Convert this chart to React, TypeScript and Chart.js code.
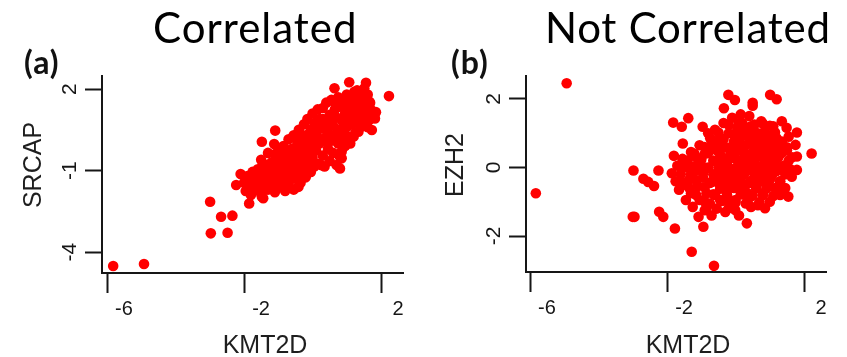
import React, { useEffect, useRef } from "react";
import { Chart, registerables } from "chart.js";

Chart.register(...registerables);

// Panel (a): KMT2D vs SRCAP (correlated)
const corrKMT2D = [
  -5.82, -4.92, -2.99, -2.67, -2.34, -2.97, -2.48, -2.23, -1.85, -1.78, -2.1, -1.48, -1.09, -1.12, -1.44, -1.48,
  1.07, 1.56, 0.64, 2.23, 1.51, 1.22, 1.61, 1.68, 1.8, 1.73, 1.34, 0.85, 0.8, -0.41, -0.61, 1.82, 1.66, 0.8,
  -2.0, -1.95, -1.9, -1.85, -1.8, -1.75, -1.7, -1.65, -1.6, -1.6,
  -1.55, -1.5, -1.5, -1.45, -1.4, -1.35, -1.3, -1.3, -1.25, -1.2, -1.2, -1.15, -1.1, -1.1, -1.05, -1.0, -1.0, -1.0,
  -0.95, -0.9, -0.9, -0.85, -0.85, -0.8, -0.8, -0.75, -0.75, -0.7, -0.7, -0.65, -0.6, -0.6, -0.55, -0.55, -0.5, -0.5,
  -0.45, -0.45, -0.4, -0.4, -0.35, -0.35, -0.3, -0.3, -0.25, -0.25, -0.2, -0.2, -0.2, -0.15, -0.1, -0.1, -0.05, -0.05, 0.0, 0.0, 0.0,
  0.05, 0.05, 0.1, 0.1, 0.15, 0.15, 0.2, 0.2, 0.25, 0.25, 0.3, 0.3, 0.35, 0.35, 0.4, 0.4, 0.45, 0.45, 0.5, 0.5,
  0.55, 0.55, 0.6, 0.6, 0.65, 0.65, 0.7, 0.7, 0.75, 0.75, 0.8, 0.8, 0.85, 0.85, 0.9, 0.9, 0.95, 0.95, 1.0, 1.0,
  1.05, 1.05, 1.1, 1.1, 1.15, 1.15, 1.2, 1.25, 1.25, 1.3, 1.3, 1.35, 1.4, 1.4, 1.45, 1.5, 1.5,
  1.55, 1.6, 1.65, 1.7, 1.75, 1.85, 1.6,
  -1.9, -1.8, -1.7, -1.55, -1.45, -1.35, -1.25, -1.15, -1.05, -0.95, -0.85, -0.75, -0.65, -0.55, -0.45, -0.35, -0.25, -0.15,
  -0.05, 0.05, 0.15, 0.25, 0.35, 0.45, 0.55, 0.65, 0.75, 0.85, 0.95, 1.05, 1.15, 1.25, 1.35, 1.45, 1.55,
  -1.7, -1.4, -1.1, -0.8, -0.5, -0.2, 0.1, 0.4, 0.7, 1.0, 1.3, 1.6, -0.6, -0.3, 0.0, 0.3, 0.6, 0.9, 1.2,
];
const corrSRCAP = [
  -4.51, -4.44, -2.15, -2.7, -2.66, -3.31, -3.29, -1.53, -2.21, -1.66, -1.13, 0.06, 0.47, -0.02, -2.02, -1.96,
  2.25, 2.23, 2.03, 1.74, 2.03, 1.9, 1.8, 1.5, 0.98, 0.49, 0.43, -0.55, -0.92, -1.6, -1.29, 0.92, 1.53, -0.49,
  -1.45, -1.75, -1.2, -1.55, -1.9, -1.05, -1.4, -1.7, -0.95, -1.25,
  -1.55, -1.85, -0.6, -1.1, -1.4, -0.8, -1.7, -0.35, -1.2, -1.5, -0.7, -1.0, -1.8, -0.4, -1.3, -0.9, -1.6, -0.2,
  -1.15, -0.55, -1.45, -0.1, -0.85, -1.75, -1.2, -0.4, -0.95, 0.15, -1.5, -0.7, -0.2, -1.05, -1.7, 0.3, -0.5, -1.3,
  -0.85, 0.1, -1.15, 0.5, -0.3, -1.45, 0.0, -0.7, 0.7, -1.0, -0.45, 0.3, -1.25, 0.9, -0.15, -0.8, 0.5, -1.05, 0.15, -0.5, 1.1,
  -0.85, 0.75, -0.25, 0.35, -0.75, 1.25, 0.0, 0.9, -0.8, 0.55, -0.45, 1.3, 0.2, -0.85, 0.75, 1.5, -0.2, 0.4, 1.05, -0.65,
  0.1, 1.6, 0.65, -0.35, 1.25, 0.3, -0.8, 0.95, 1.7, 0.0, 0.5, 1.35, -0.3, 0.85, 1.55, 0.2, 1.1, -0.1, 0.6, 1.8,
  0.95, 0.25, 1.45, 0.0, 0.7, 1.7, 1.15, 0.4, 1.55, 0.85, 1.95, 1.25, 0.6, 1.7, 1.0, 1.4, 0.7,
  1.1, 1.55, 0.85, 1.25, 1.0, 1.15, 0.6,
  -1.6, -1.3, -1.15, -1.25, -0.75, -1.15, -0.9, -1.3, -0.6, -0.75, -0.45, -1.35, -0.35, -0.85, -0.3, 0.2, -0.6, 0.2,
  0.05, 0.35, 0.5, 0.1, 0.55, 0.9, 0.85, 1.5, 0.45, 0.45, 1.35, 1.6, 1.1, 0.9, 0.75, 1.3, 1.35,
  -1.1, -1.0, -0.65, -0.6, -0.15, -0.05, 0.05, 0.1, 0.25, 1.2, 1.5, 1.0, -0.45, -0.5, -0.25, 0.9, 0.95, 0.65, 0.25,
];

// Panel (b): KMT2D vs EZH2 (not correlated)
const uncorrKMT2D = [
  -4.93, -5.83, -2.98, -2.25, -2.69, -2.55, -2.38, -3.0, -2.95, -2.23, -2.11, -1.77, -1.28, -0.63,
  -1.82, -1.38, -1.57, -1.54, -1.8, -1.86, -0.96, -0.21, -0.02, 0.5, 0.5, 1.01, 1.2, -0.34, 0.15,
  1.49, 1.79, 2.22, 1.64, 1.54, 0.86, 0.33, -0.01, -0.74, -0.94, -1.08,
  -1.75, -1.7, -1.65, -1.6, -1.55, -1.5, -1.45, -1.4, -1.35, -1.3, -1.3, -1.25, -1.2, -1.15, -1.1, -1.05, -1.05, -1.0,
  -0.95, -0.9, -0.9, -0.85, -0.8, -0.8, -0.75, -0.75, -0.7, -0.7,
  -0.65, -0.65, -0.6, -0.6, -0.55, -0.55, -0.5, -0.5, -0.45, -0.45, -0.4, -0.4, -0.35, -0.35, -0.3, -0.3, -0.25, -0.25,
  -0.2, -0.2, -0.15, -0.15, -0.1, -0.1, -0.05, -0.05, 0.0, 0.0, 0.05, 0.05, 0.1, 0.1, 0.15, 0.15, 0.2, 0.2, 0.25, 0.25,
  0.3, 0.3, 0.35, 0.35, 0.4, 0.4, 0.45, 0.45, 0.5, 0.5, 0.55, 0.55, 0.6, 0.6, 0.65, 0.65, 0.7, 0.7, 0.75, 0.75,
  0.8, 0.8, 0.85, 0.85, 0.9, 0.9, 0.95, 0.95, 1.0, 1.0, 1.05, 1.05, 1.1, 1.1, 1.15, 1.15, 1.2, 1.2,
  1.25, 1.3, 1.3, 1.35, 1.4, 1.45, 1.5, 1.55, 1.6, 1.65, 1.75, 1.79, 1.79, 1.3,
  -0.3, 0.0, 0.2, 0.4, 0.55, 0.3, -0.1, 0.1, 0.6, 0.8, 0.45, 0.15, -0.2, 0.35, 0.65,
  -0.2, 0.1, 0.45, 0.8, 1.0,
  -0.5, -0.05, 0.25, 0.6, 0.9, 1.15,
  -0.7, -0.35, 0.05, 0.4, 0.7, 1.05, 1.35,
  -0.9, -0.5, -0.15, 0.2, 0.55, 0.85, 1.2, 1.5,
  -1.2, -0.8, -0.45, -0.05, 0.3, 0.7, 1.0, 1.35,
  -1.4, -1.0, -0.6, -0.25, 0.1, 0.5, 0.85, 1.15, 1.55,
  -1.55, -1.2, -0.85, -0.4, 0.0, 0.35, 0.65, 0.95, 1.3,
  -1.3, -0.95, -0.55, -0.15, 0.2, 0.55, 0.8, 1.1, 1.45,
  -1.6, -1.15, -0.7, -0.35, 0.05, 0.45, 0.75, 1.0, 1.3,
  -1.35, -0.9, -0.45, -0.1, 0.25, 0.6, 0.9, 1.2,
  -1.15, -0.65, -0.25, 0.15, 0.5, 0.8, 1.1,
  -0.9, -0.4, 0.0, 0.35, 0.7,
  -0.85, -0.2, 0.45,
];
const uncorrEZH2 = [
  2.46, -0.75, -0.09, -0.09, -0.33, -0.42, -0.54, -1.44, -1.44, -1.29, -1.44, -1.78, -2.46, -2.87,
  1.31, 1.44, 1.19, 0.7, 0.34, -0.17, 1.19, 2.12, 1.97, 1.89, 1.8, 2.12, 1.99, 1.73, 1.55,
  1.16, 1.02, 0.41, -0.27, -0.85, -1.19, -1.63, -1.24, 0.85, -1.73, -1.44,
  -0.4, 0.05, -0.65, -0.2, 0.25, -0.5, -0.95, 0.0, -0.35, 0.45, -0.75, -1.15, -0.1, 0.3, -0.55, -0.95, 0.65, 0.05,
  -0.3, -1.25, 0.4, -0.75, 0.0, 1.0, -1.05, -0.45, 0.6, -1.4,
  0.2, -0.2, -0.8, 1.1, 0.5, -1.2, -0.45, 0.0, 0.85, -0.95, 0.3, -0.6, 1.3, -0.15, 0.6, -1.3, -0.8, 0.1,
  1.0, -0.35, 0.45, -1.05, -0.05, 1.45, 0.75, -0.6, 0.25, -0.95, 1.15, -0.3, 0.5, -1.4, 0.0, 0.9, -0.7, 1.3, 0.3, -0.2,
  0.65, -1.05, 1.05, 0.05, -0.45, 1.5, 0.4, -0.85, 0.85, -0.1, 1.25, 0.2, -0.6, 0.6, -1.1, 1.0, 0.0, 0.35, -0.35, 1.35,
  0.75, -0.8, 0.15, 1.05, -0.2, 0.5, -0.55, 0.9, 0.25, -1.0, 0.65, -0.25, 1.2, 0.05, -0.6, 0.45, 0.85, -0.1,
  0.3, -0.4, 0.7, 1.35, 0.05, -0.6, 0.5, 0.9, -0.05, 0.3, 0.66, 0.32, -0.07, -0.8,
  0.25, 0.6, 0.15, 0.15, -0.35, -0.5, 0.35, -0.1, 0.4, 0.3, 0.7, -0.45, -0.6, -0.75, -0.2,
  1.25, 1.3, 1.2, 1.28, 1.22,
  1.02, 0.97, 1.05, 1.0, 0.95, 1.03,
  0.8, 0.83, 0.77, 0.82, 0.78, 0.81, 0.76,
  0.6, 0.63, 0.58, 0.62, 0.57, 0.61, 0.64, 0.59,
  0.4, 0.42, 0.38, 0.43, 0.37, 0.41, 0.39, 0.42,
  0.2, 0.23, 0.18, 0.22, 0.17, 0.21, 0.24, 0.19, 0.2,
  0.0, 0.03, -0.02, 0.02, -0.03, 0.01, 0.04, -0.01, 0.0,
  -0.2, -0.17, -0.22, -0.18, -0.23, -0.19, -0.21, -0.16, -0.2,
  -0.4, -0.37, -0.42, -0.38, -0.43, -0.39, -0.41, -0.36, -0.4,
  -0.6, -0.58, -0.62, -0.57, -0.63, -0.59, -0.61, -0.6,
  -0.8, -0.78, -0.82, -0.79, -0.81, -0.77, -0.83,
  -1.0, -0.98, -1.02, -0.97, -1.01,
  -1.2, -1.18, -1.15,
];

const kmt2dTicks = [-6, -2, 2];
const srcapTicks = [2, -1, -4];
const ezh2Ticks = [2, 0, -2];

const INK = "#161616";
const TICK_FONT = "'Liberation Sans', Arial, sans-serif";
const YTICK_FONT = "'Liberation Sans Narrow', 'Liberation Sans', Arial, sans-serif";

type Area = { left: number; right: number; top: number; bottom: number };

type PanelProps = {
  xs: number[];
  ys: number[];
  xMin: number;
  xMax: number;
  yMin: number;
  yMax: number;
  xTicks: number[];
  yTicks: number[];
  width: number;
  height: number;
  left: number;
  area: Area;
};

function ScatterPanel(p: PanelProps) {
  const ref = useRef<HTMLCanvasElement>(null);
  useEffect(() => {
    const points = p.xs.map((x, i) => ({ x, y: p.ys[i] }));
    const chart = new Chart(ref.current as HTMLCanvasElement, {
      type: "scatter",
      data: {
        datasets: [
          {
            data: points,
            backgroundColor: "#ff0000",
            borderWidth: 0,
            pointRadius: 5.3,
            pointHoverRadius: 5.3,
          },
        ],
      },
      options: {
        animation: false,
        responsive: false,
        devicePixelRatio: 1,
        events: [],
        layout: {
          padding: { top: p.area.top, right: p.width - p.area.right, left: 0, bottom: 0 },
        },
        plugins: {
          legend: { display: false },
          tooltip: { enabled: false },
          title: { display: false },
        },
        scales: {
          x: {
            type: "linear",
            min: p.xMin,
            max: p.xMax,
            afterBuildTicks: (s: any) => {
              s.ticks = p.xTicks.map((v) => ({ value: v }));
            },
            afterFit: (s: any) => {
              s.height = p.height - p.area.bottom;
            },
            grid: {
              display: true,
              drawOnChartArea: false,
              drawTicks: true,
              tickLength: 20,
              tickWidth: 2,
              tickColor: INK,
            },
            border: { display: true, width: 2, color: INK },
            ticks: {
              autoSkip: false,
              minRotation: 0,
              maxRotation: 0,
              labelOffset: 17,
              padding: 4,
              color: INK,
              font: { family: TICK_FONT, size: 20 },
              callback: (v: any) => String(v),
            },
          },
          y: {
            type: "linear",
            min: p.yMin,
            max: p.yMax,
            afterBuildTicks: (s: any) => {
              s.ticks = p.yTicks.map((v) => ({ value: v }));
            },
            afterFit: (s: any) => {
              s.width = p.area.left;
            },
            grid: {
              display: true,
              drawOnChartArea: false,
              drawTicks: true,
              tickLength: 17,
              tickWidth: 2,
              tickColor: INK,
            },
            border: { display: true, width: 2, color: INK },
            ticks: {
              autoSkip: false,
              minRotation: 90,
              maxRotation: 90,
              crossAlign: "center",
              padding: 5,
              color: INK,
              font: { family: YTICK_FONT, size: 21 },
              callback: (v: any) => String(v),
            },
          },
        },
      },
    } as any);
    return () => chart.destroy();
  }, []);
  return (
    <canvas
      ref={ref}
      width={p.width}
      height={p.height}
      style={{ position: "absolute", left: p.left, top: 0, width: p.width, height: p.height }}
    />
  );
}

const titleStyle: React.CSSProperties = {
  position: "absolute",
  fontFamily: "Lato, 'Open Sans', sans-serif",
  fontSize: 42,
  lineHeight: "42px",
  color: "#000",
  whiteSpace: "nowrap",
};
const letterStyle: React.CSSProperties = {
  position: "absolute",
  fontFamily: "Lato, 'Open Sans', sans-serif",
  fontWeight: 700,
  fontSize: 32,
  lineHeight: "32px",
  letterSpacing: 1,
  color: "#111",
  whiteSpace: "nowrap",
};
const axisTitleStyle: React.CSSProperties = {
  position: "absolute",
  fontFamily: "'Liberation Sans', Arial, sans-serif",
  fontSize: 25,
  lineHeight: "25px",
  color: "#1e1e1e",
  whiteSpace: "nowrap",
};

export default function App() {
  return (
    <div
      style={{
        position: "absolute",
        left: 0,
        top: 0,
        width: 847,
        height: 357,
        background: "#fff",
        overflow: "hidden",
      }}
    >
      <ScatterPanel
        xs={corrKMT2D}
        ys={corrSRCAP}
        xMin={-6.146}
        xMax={2.64}
        yMin={-4.77}
        yMax={2.48}
        xTicks={kmt2dTicks}
        yTicks={srcapTicks}
        width={420}
        height={357}
        left={0}
        area={{ left: 102, right: 403, top: 76, bottom: 273 }}
      />
      <ScatterPanel
        xs={uncorrKMT2D}
        ys={uncorrEZH2}
        xMin={-6.117}
        xMax={2.64}
        yMin={-3.05}
        yMax={2.67}
        xTicks={kmt2dTicks}
        yTicks={ezh2Ticks}
        width={427}
        height={357}
        left={420}
        area={{ left: 106, right: 406, top: 76, bottom: 272 }}
      />
      <div style={{ ...titleStyle, left: 153, top: 6, letterSpacing: 1 }}>Correlated</div>
      <div style={{ ...titleStyle, left: 545, top: 6, letterSpacing: 0.75 }}>Not Correlated</div>
      <div style={{ ...letterStyle, left: 24, top: 46 }}>(a)</div>
      <div style={{ ...letterStyle, left: 451, top: 46 }}>(b)</div>
      <div
        style={{
          ...axisTitleStyle,
          left: 32,
          top: 165,
          transform: "translate(-50%, -50%) rotate(-90deg)",
        }}
      >
        SRCAP
      </div>
      <div
        style={{
          ...axisTitleStyle,
          left: 454,
          top: 165,
          transform: "translate(-50%, -50%) rotate(-90deg)",
        }}
      >
        EZH2
      </div>
      <div style={{ ...axisTitleStyle, left: 265, top: 332, transform: "translateX(-50%)" }}>KMT2D</div>
      <div style={{ ...axisTitleStyle, left: 688, top: 332, transform: "translateX(-50%)" }}>KMT2D</div>
    </div>
  );
}
